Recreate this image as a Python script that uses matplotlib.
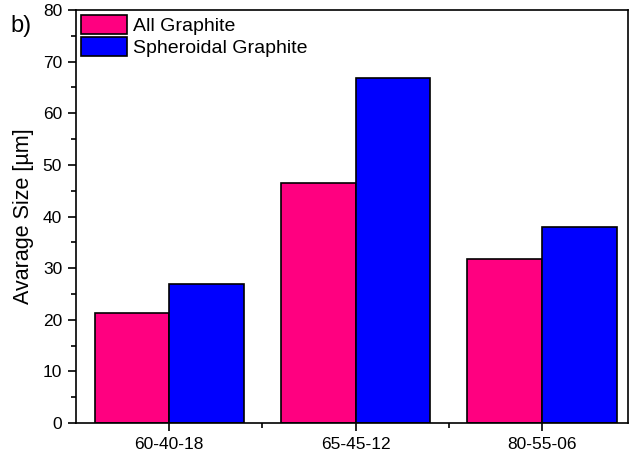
import numpy as np
import matplotlib.pyplot as plt
from matplotlib.ticker import MultipleLocator, FixedLocator

plt.rcParams['font.family'] = ['Liberation Sans', 'DejaVu Sans']

# Average graphite size per grade
grades = ['60-40-18', '65-45-12', '80-55-06']
all_graphite = [21.4, 46.4, 31.8]
spheroidal_graphite = [26.9, 66.8, 38.0]

x = np.arange(1, len(grades) + 1)
w = 0.4

fig = plt.figure(figsize=(6.36, 4.57), dpi=100)
ax = fig.add_axes([0.1195, 0.0744, 0.8675, 0.9036])

ax.bar(x - w / 2, all_graphite, w, color='#ff0080', edgecolor='black', linewidth=1.2,
       label='All Graphite')
ax.bar(x + w / 2, spheroidal_graphite, w, color='#0000ff', edgecolor='black', linewidth=1.2,
       label='Spheroidal Graphite')

ax.set_xlim(0.5, 3.46)
ax.set_ylim(0, 80)
ax.set_xticks(x)
ax.set_xticklabels(grades)
ax.xaxis.set_minor_locator(FixedLocator([1.5, 2.5]))
ax.yaxis.set_major_locator(MultipleLocator(10))
ax.yaxis.set_minor_locator(MultipleLocator(5))
ax.tick_params(which='major', direction='out', length=6, width=1.2, labelsize=12.5, pad=4)
ax.tick_params(which='minor', direction='out', length=3.5, width=1.2)
for s in ax.spines.values():
    s.set_linewidth(1.2)

ax.set_ylabel('Avarage Size [µm]', fontsize=15.5, labelpad=6)
fig.text(0.016, 0.93, 'b)', fontsize=17)

ax.legend(loc='upper left', frameon=False, fontsize=14, handlelength=2.35, handleheight=1.1,
          handletextpad=0.35, labelspacing=0.12, borderpad=0.15, borderaxespad=0.1)

fig.savefig('out.png', dpi=100)
